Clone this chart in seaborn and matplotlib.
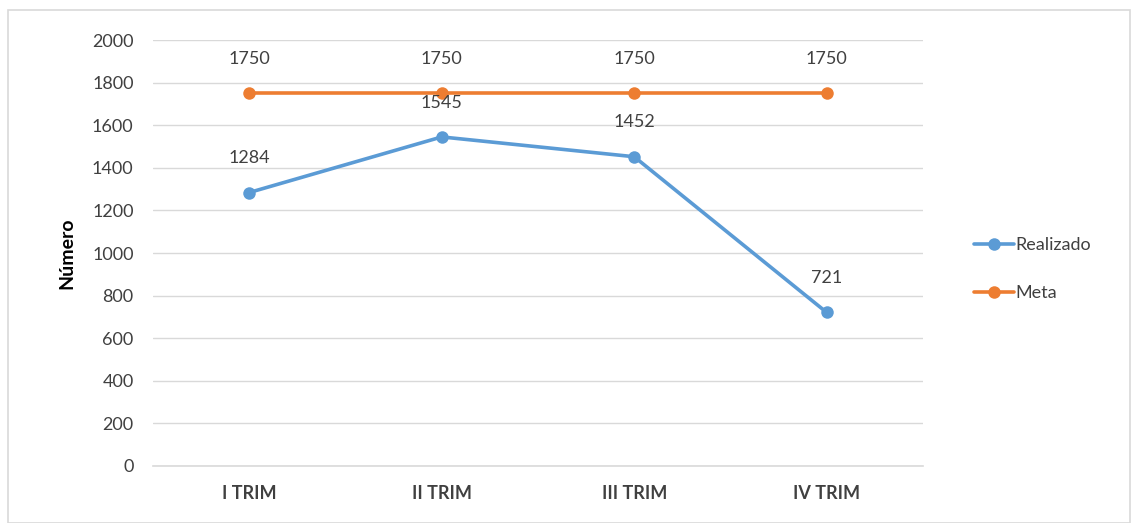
import matplotlib
matplotlib.use("Agg")
import matplotlib.pyplot as plt
import seaborn as sns
import pandas as pd
from matplotlib.patches import Rectangle

categorias = ["I TRIM", "II TRIM", "III TRIM", "IV TRIM"]
realizado = [1284, 1545, 1452, 721]
meta = [1750, 1750, 1750, 1750]

df = pd.DataFrame({
    "Trimestre": categorias * 2,
    "Valor": realizado + meta,
    "Serie": ["Realizado"] * 4 + ["Meta"] * 4,
})
df["x"] = list(range(4)) * 2

sns.set_style("white")
plt.rcParams["font.family"] = ["Lato", "DejaVu Sans"]

fig = plt.figure(figsize=(11.31, 5.23), dpi=100)
ax = fig.add_axes([0.1353, 0.109, 0.6807, 0.8145])

colors = {"Realizado": "#5B9BD5", "Meta": "#ED7D31"}
sns.lineplot(data=df, x="x", y="Valor", hue="Serie", palette=colors,
             marker="o", markersize=9, linewidth=2.6, markeredgewidth=0,
             ax=ax, legend=True)

for serie, vals in (("Realizado", realizado), ("Meta", meta)):
    for i, v in enumerate(vals):
        ax.annotate(str(v), (i, v), xytext=(0, 19), textcoords="offset points",
                    ha="center", va="bottom", fontsize=13, color="#404040")

ax.set_xlim(-0.5, 3.5)
ax.set_ylim(0, 2000)
ax.set_yticks(range(0, 2001, 200))
ax.set_xticks(range(4))
ax.set_xticklabels(categorias, fontsize=13, fontweight="bold", color="#404040")
ax.tick_params(axis="y", labelsize=13, labelcolor="#404040", length=0, pad=14)
ax.tick_params(axis="x", length=0, pad=14)
ax.set_xticks([-0.5, 0.5, 1.5, 2.5, 3.5], minor=True)
ax.tick_params(axis="x", which="minor", length=4, color="#D9D9D9")
ax.grid(axis="y", color="#D9D9D9", linewidth=1)
ax.set_axisbelow(True)
for s in ("top", "right", "left"):
    ax.spines[s].set_visible(False)
ax.spines["bottom"].set_color("#D9D9D9")
ax.spines["bottom"].set_linewidth(1.2)
ax.set_xlabel("")
ax.set_ylabel("Número", fontsize=14, fontweight="bold", color="#000000", labelpad=12)

handles, labels = ax.get_legend_handles_labels()
ax.legend(handles, labels, loc="center left", bbox_to_anchor=(1.045, 0.462),
          frameon=False, fontsize=13, handlelength=2.2, handletextpad=0.1,
          labelspacing=1.8, labelcolor="#404040")

fig.patches.append(Rectangle((8 / 1131, 0), 1 - 9 / 1131, 1 - 10 / 523,
                             transform=fig.transFigure, fill=False,
                             edgecolor="#D9D9D9", linewidth=1.2))

fig.savefig("out.png", dpi=100)
